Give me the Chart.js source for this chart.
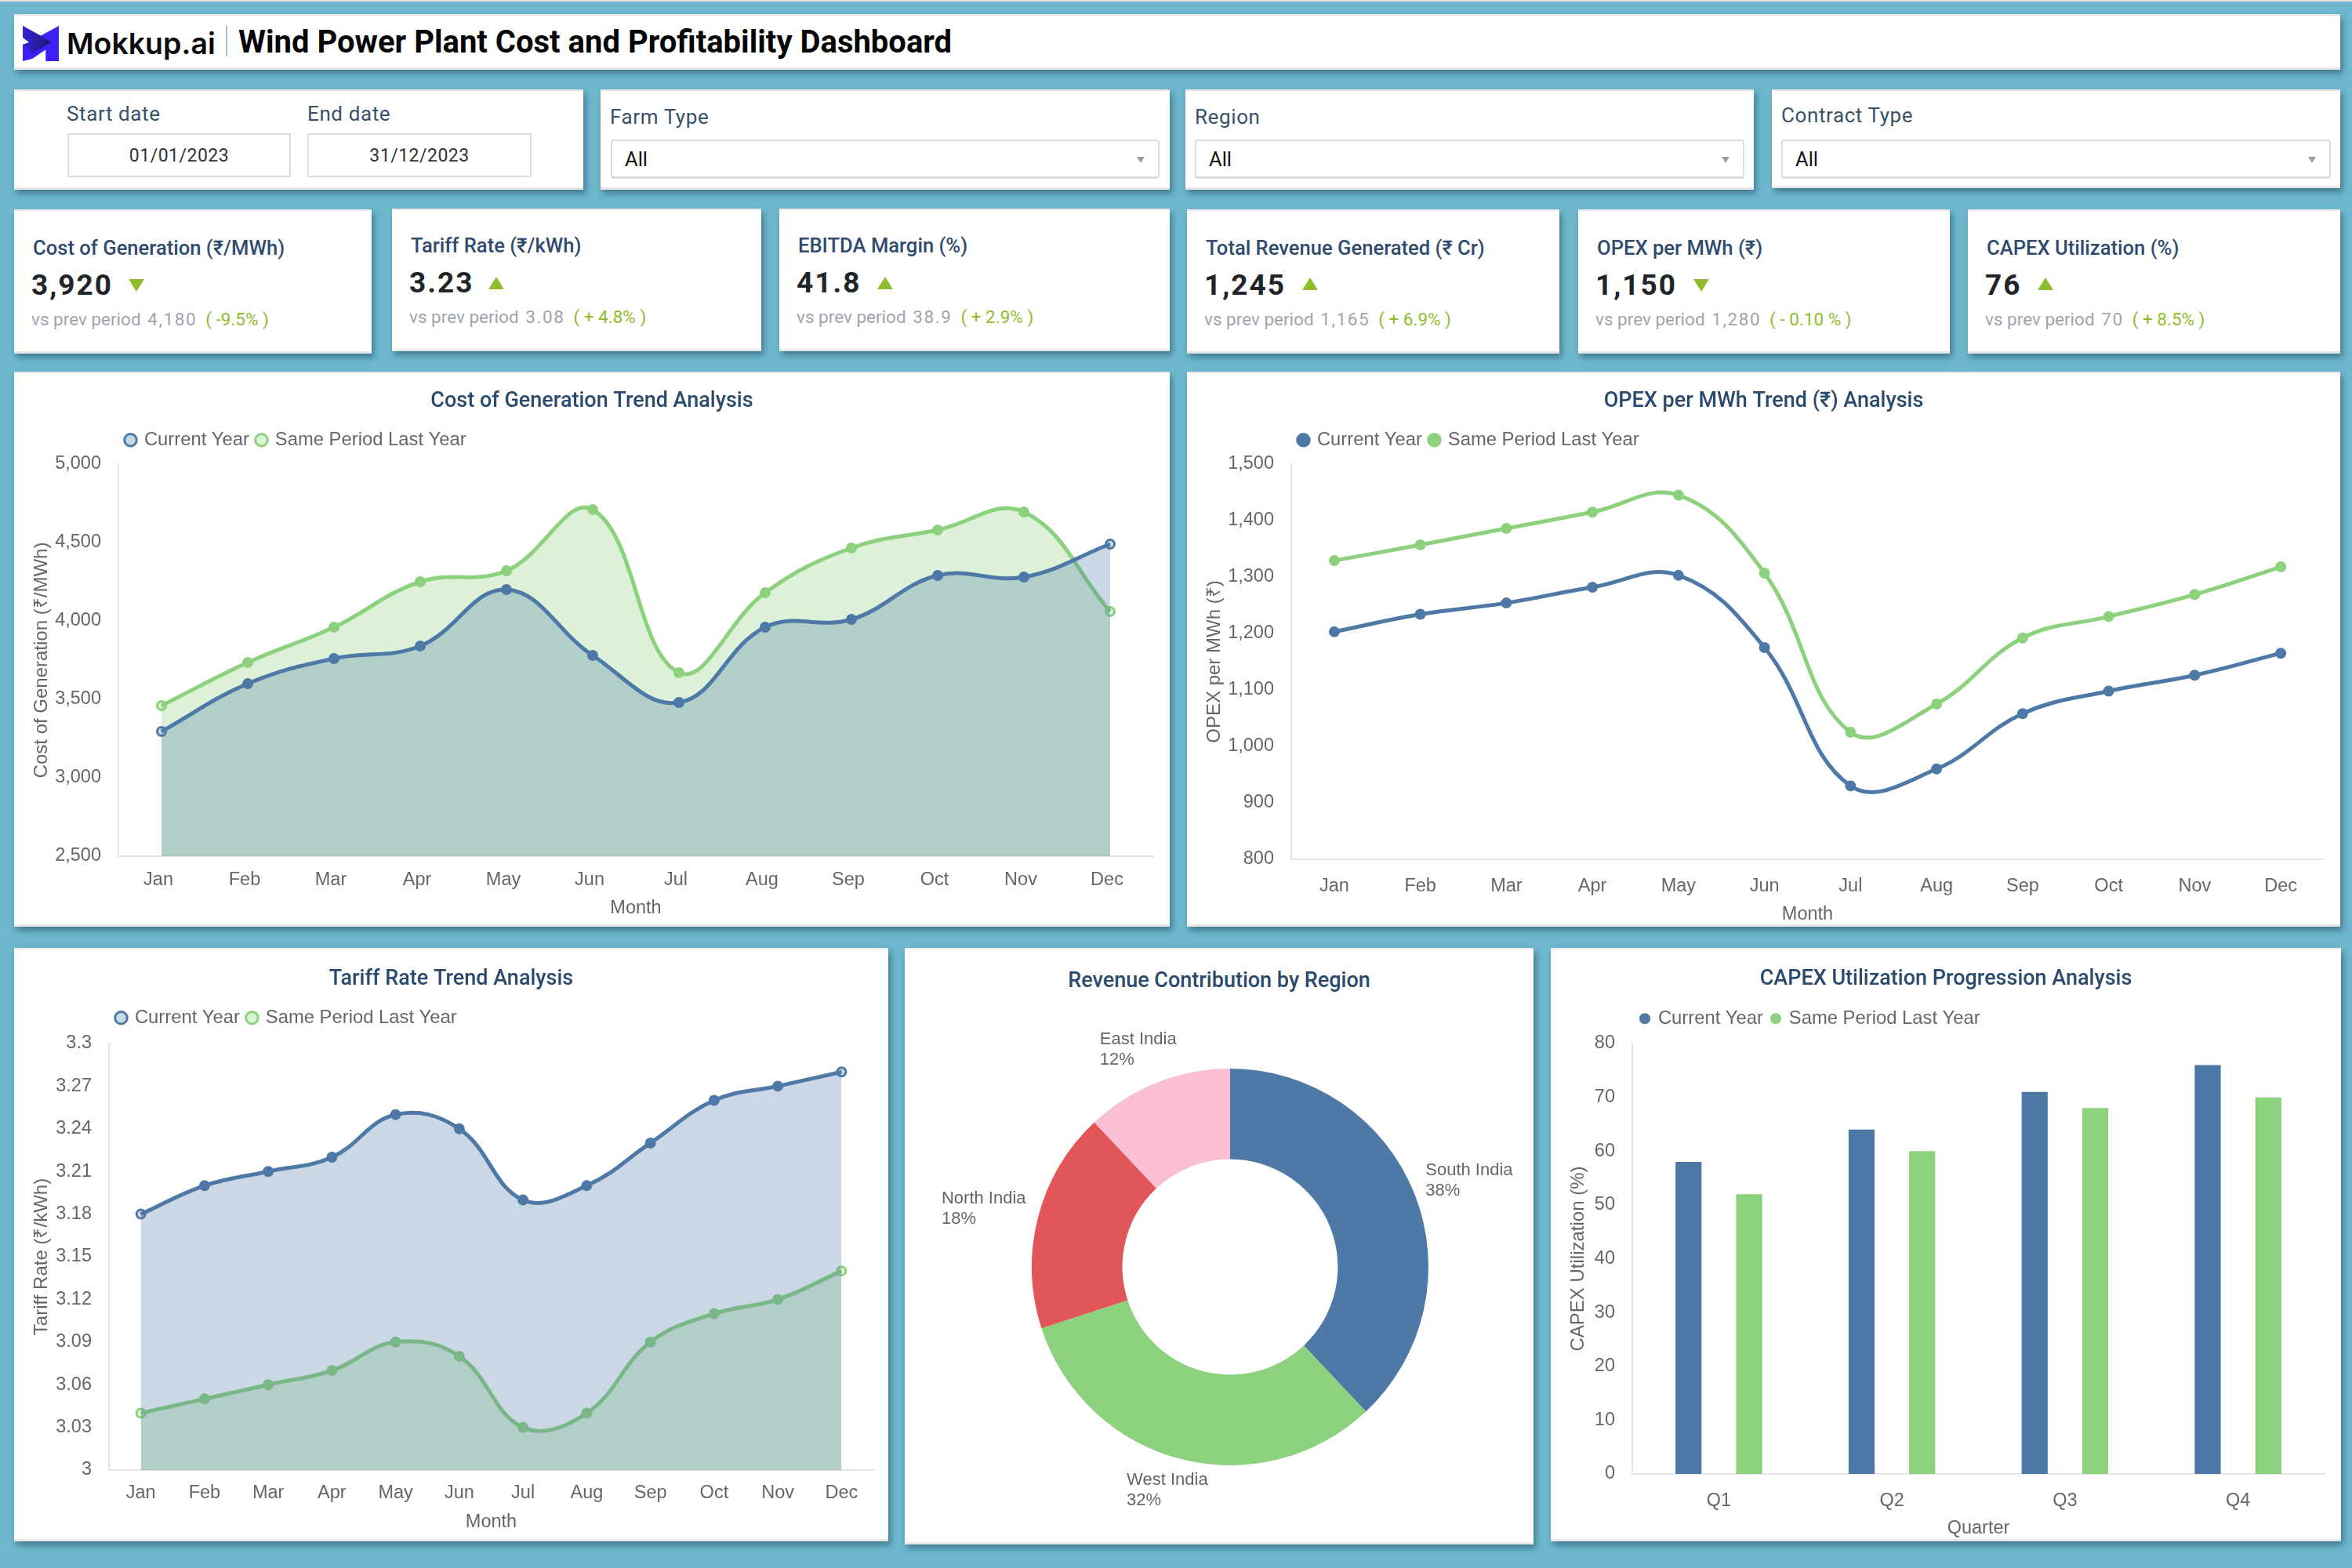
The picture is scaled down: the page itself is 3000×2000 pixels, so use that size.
<!DOCTYPE html>
<html>
<head>
<meta charset="utf-8">
<title>Wind Power Plant Cost and Profitability Dashboard</title>
<script src="https://cdn.jsdelivr.net/npm/chart.js@4/dist/chart.umd.min.js"></script>
<style>
  html, body { margin: 0; padding: 0; }
  body { width: 3000px; height: 2000px; background: #6eb8ce; position: relative; overflow: hidden; font-family: Roboto, sans-serif; }
  #topline { position: absolute; left: 0; top: 0; width: 3000px; height: 2px; background: #e4e4e4; }
  .box { position: absolute; background: #fff; box-shadow: inset 0 2px 0 #e8e8e8, inset 0 -3px 0 #e8e8e8, 3px 5px 8px rgba(30, 70, 90, .55); }
  .box canvas { position: absolute; left: 0; top: 0; }
  .abs { position: absolute; white-space: nowrap; line-height: 1; }
  .flabel { font-size: 26px; color: #3a5068; letter-spacing: .6px; }
  .dateinput { position: absolute; box-sizing: border-box; border: 2px solid #dcdcdc; background: #fff; text-align: center; font-size: 23px; color: #333; letter-spacing: .5px; line-height: 53px; }
  .select { position: absolute; box-sizing: border-box; border: 2px solid #dcdcdc; border-bottom-width: 3px; border-radius: 4px; background: #fff; font-size: 25.5px; color: #111; line-height: 46px; padding-left: 16px; }
  .select i { position: absolute; right: 17px; top: 20px; width: 0; height: 0; border-left: 5px solid transparent; border-right: 5px solid transparent; border-top: 8px solid #9a9ea6; }
  .ktitle { font-size: 25.6px; font-weight: 500; color: #2f4b6e; }
  .kvalue { font-size: 37px; font-weight: 700; color: #212529; letter-spacing: 2px; }
  .ktri { position: absolute; width: 0; height: 0; border-left: 10px solid transparent; border-right: 10px solid transparent; }
  .ksub { font-size: 22.5px; color: #a0a3ad; }
  .ksub b { font-weight: 400; color: #8fbc2c; margin-left: 11px; }
  .ksub u { text-decoration: none; letter-spacing: 1.6px; margin-left: 3px; }
  #donutTitle { position: absolute; left: 0; right: 0; top: 25px; text-align: center; font-size: 27px; font-weight: 500; color: #2a4a6e; }
</style>
</head>
<body>
<div id="topline"></div>

<div class="box" style="left:18px;top:18px;width:2967px;height:71px">
  <svg class="abs" style="left:11px;top:14px" width="46" height="46" viewBox="0 0 44 44">
    <defs><linearGradient id="lg" x1="0" y1="0" x2="1" y2="0"><stop offset="0" stop-color="#3a22d8"/><stop offset="1" stop-color="#17186b"/></linearGradient></defs>
    <path d="M0 1 L22 13 L44 1 V44 H28 V30 L12 41 L0 44 V24 L8 21 L0 15 Z" fill="#3e1ff8"/>
    <path d="M0 1 L35 21 L12 34 L0 24 L8 21 L0 15 Z" fill="url(#lg)"/>
  </svg>
  <div class="abs" style="left:67px;top:15px;font:600 37.5px Inter,sans-serif;color:#0b0b0f">Mokkup.ai</div>
  <div class="abs" style="left:270px;top:15px;width:2px;height:39px;background:#a9bcc4"></div>
  <div class="abs" style="left:286px;top:16px;font-size:40px;font-weight:700;color:#050505">Wind Power Plant Cost and Profitability Dashboard</div>
</div>

<div class="box" style="left:18px;top:114px;width:726px;height:128px">
  <div class="abs flabel" style="left:67px;top:18px">Start date</div>
  <div class="abs flabel" style="left:374px;top:18px">End date</div>
  <div class="dateinput" style="left:68px;top:56px;width:285px;height:56px">01/01/2023</div>
  <div class="dateinput" style="left:374px;top:56px;width:286px;height:56px">31/12/2023</div>
</div>
<div class="box" style="left:766px;top:114px;width:726px;height:128px">
  <div class="abs flabel" style="left:12px;top:22px">Farm Type</div>
  <div class="select" style="left:13px;top:64px;width:700px;height:50px">All<i></i></div>
</div>
<div class="box" style="left:1512px;top:114px;width:725px;height:128px">
  <div class="abs flabel" style="left:12px;top:22px">Region</div>
  <div class="select" style="left:12px;top:64px;width:701px;height:50px">All<i></i></div>
</div>
<div class="box" style="left:2260px;top:114px;width:725px;height:126px">
  <div class="abs flabel" style="left:12px;top:20px">Contract Type</div>
  <div class="select" style="left:12px;top:64px;width:701px;height:50px">All<i></i></div>
</div>

<div id="kpis"></div>

<div class="box" style="left:18px;top:474px;width:1474px;height:708px"><canvas id="costChart"></canvas></div>
<div class="box" style="left:1514px;top:474px;width:1471px;height:708px"><canvas id="opexChart"></canvas></div>
<div class="box" style="left:18px;top:1209px;width:1115px;height:757px"><canvas id="tariffChart"></canvas></div>
<div class="box" style="left:1154px;top:1209px;width:802px;height:761px"><div id="donutTitle">Revenue Contribution by Region</div><canvas id="regionChart"></canvas></div>
<div class="box" style="left:1978px;top:1209px;width:1008px;height:757px"><canvas id="capexChart"></canvas></div>

<script>
// chart data
const months = ['Jan', 'Feb', 'Mar', 'Apr', 'May', 'Jun', 'Jul', 'Aug', 'Sep', 'Oct', 'Nov', 'Dec'];
const quarters = ['Q1', 'Q2', 'Q3', 'Q4'];
const seriesNames = ['Current Year', 'Same Period Last Year'];

const costCurrent = [3295, 3600, 3760, 3840, 4200, 3780, 3480, 3960, 4010, 4290, 4280, 4490];
const costLast = [3460, 3735, 3960, 4250, 4320, 4710, 3670, 4180, 4465, 4580, 4695, 4060];

const opexCurrent = [1203, 1234, 1254, 1282, 1303, 1175, 930, 960, 1058, 1098, 1126, 1165];
const opexLast = [1329, 1357, 1386, 1415, 1445, 1307, 1025, 1075, 1192, 1230, 1269, 1318];

const tariffCurrent = [3.18, 3.20, 3.21, 3.22, 3.25, 3.24, 3.19, 3.20, 3.23, 3.26, 3.27, 3.28];
const tariffLast = [3.04, 3.05, 3.06, 3.07, 3.09, 3.08, 3.03, 3.04, 3.09, 3.11, 3.12, 3.14];

const regions = ['South India', 'West India', 'North India', 'East India'];
const regionShare = [38, 32, 18, 12];

const capexCurrent = [58, 64, 71, 76];
const capexLast = [52, 60, 68, 70];

// KPI cards
const kpiTitles = ['Cost of Generation (₹/MWh)', 'Tariff Rate (₹/kWh)', 'EBITDA Margin (%)', 'Total Revenue Generated (₹ Cr)', 'OPEX per MWh (₹)', 'CAPEX Utilization (%)'];
const kpiValues = ['3,920', '3.23', '41.8', '1,245', '1,150', '76'];
const kpiPrev = ['4,180', '3.08', '38.9', '1,165', '1,280', '70'];
const kpiChange = ['( -9.5% )', '( + 4.8% )', '( + 2.9% )', '( + 6.9% )', '( - 0.10 % )', '( + 8.5% )'];
const kpiDown = [true, false, false, false, true, false];

const BLUE = '#4E79A7';
const GREEN = '#8CD17D';
const BLUE_FILL = 'rgba(78,121,167,0.3)';
const GREEN_FILL = 'rgba(140,209,125,0.3)';
const GREY = '#666666';
const AXIS = '#e4e4e4';
const ARIAL = 'Liberation Sans';

const kpiBoxes = [[18, 267, 456, 184, 316], [500, 266, 471, 182, 313], [994, 266, 498, 182, 313], [1514, 267, 475, 184, 316], [2013, 267, 474, 184, 316], [2510, 267, 475, 184, 316]];
const triLeft = [146, 123, 125, 147, 147, 89];
let kpiHtml = '';
kpiBoxes.forEach(([x, y, w, h, ty], i) => {
    const tri = kpiDown[i] ? 'border-top:16px solid #8fbc2c;top:89px' : 'border-bottom:16px solid #8fbc2c;top:87px';
    kpiHtml += `<div class="box" style="left:${x}px;top:${y}px;width:${w}px;height:${h}px">
      <div class="abs ktitle" style="left:24px;top:${ty - y - 12}px">${kpiTitles[i]}</div>
      <div class="abs kvalue" style="left:22px;top:${ty - y + 29}px">${kpiValues[i]}</div>
      <div class="ktri" style="left:${triLeft[i]}px;${tri}"></div>
      <div class="abs ksub" style="left:22px;top:${ty - y + 80}px">vs prev period <u>${kpiPrev[i]}</u><b>${kpiChange[i]}</b></div>
    </div>`;
});
document.getElementById('kpis').innerHTML = kpiHtml;

// fix the legend block height so the plot starts where we want
const legendHeight = (height) => ({
    id: 'legendHeight',
    beforeInit(chart) {
        const fit = chart.legend.fit;
        chart.legend.fit = function () {
            fit.call(this);
            this.height = height;
        };
    }
});

// hollow markers at both ends of the area series
const endMarkers = (color, fill) => months.map((m, i) => (i === 0 || i === months.length - 1) ? fill : color);

function axisOptions(o) {
    return {
        x: {
            offset: true,
            grid: { display: false, drawTicks: false },
            border: { display: true, color: AXIS, width: 2 },
            ticks: { color: GREY, font: { family: ARIAL, size: 23.5 }, padding: o.xTickPad, labelOffset: o.xLabelOffset || 0, maxRotation: 0, autoSkip: false },
            title: { display: true, text: o.xTitle, color: GREY, font: { family: ARIAL, size: 23.5 }, padding: { top: 0, bottom: o.xTitlePad } },
            afterFit(scale) { scale.height = o.xHeight; }
        },
        y: {
            min: o.yMin,
            max: o.yMax,
            grid: { display: false, drawTicks: false },
            border: { display: true, color: AXIS, width: 2 },
            ticks: { stepSize: o.yStep, autoSkip: false, color: GREY, font: { family: ARIAL, size: 23.5 }, padding: 22, callback: o.yFormat },
            title: { display: true, text: o.yTitle, color: GREY, font: { family: ARIAL, size: 24 }, padding: { top: o.yTitlePad, bottom: 0 } },
            afterFit(scale) { scale.width = o.gutter - o.side; }
        }
    };
}

function baseOptions(o) {
    return {
        responsive: false,
        animation: false,
        devicePixelRatio: 1,
        layout: { padding: { left: o.side, right: o.side } },
        plugins: {
            tooltip: { enabled: false },
            title: {
                display: true,
                text: o.title,
                color: '#2a4a6e',
                font: { family: 'Roboto', size: 27, weight: '500' },
                padding: { top: o.titleTop, bottom: o.titleBottom }
            },
            legend: {
                position: 'top',
                align: 'start',
                fullSize: false,
                labels: {
                    usePointStyle: true,
                    boxWidth: 11,
                    boxHeight: 11,
                    padding: 10,
                    color: GREY,
                    font: { family: ARIAL, size: 23.8 }
                }
            }
        },
        scales: axisOptions(o)
    };
}

function lineChart(id, w, h, current, last, o) {
    const canvas = document.getElementById(id);
    canvas.width = w;
    canvas.height = h;
    const lineSet = (label, data, color, fill) => ({
        label,
        data,
        borderColor: color,
        backgroundColor: fill || color,
        fill: fill ? 'start' : false,
        tension: 0.4,
        borderWidth: 5,
        pointRadius: 5.5,
        pointBorderWidth: 3,
        pointBorderColor: color,
        pointBackgroundColor: fill ? endMarkers(color, fill) : color
    });
    return new Chart(canvas, {
        type: 'line',
        data: {
            labels: months,
            datasets: [
                lineSet(seriesNames[0], current, BLUE, o.area ? BLUE_FILL : null),
                lineSet(seriesNames[1], last, GREEN, o.area ? GREEN_FILL : null)
            ]
        },
        options: baseOptions(o),
        plugins: [legendHeight(o.plotTop - o.titleTop - 32.4 - o.titleBottom)]
    });
}

const thousands = (v) => v.toLocaleString('en-US');

lineChart('costChart', 1474, 708, costCurrent, costLast, {
    area: true,
    title: 'Cost of Generation Trend Analysis', titleTop: 22, titleBottom: 11, plotTop: 118, side: 21,
    gutter: 133, xHeight: 90, xTickPad: 16, xLabelOffset: -4, xTitle: 'Month', xTitlePad: 9,
    yMin: 2500, yMax: 5000, yStep: 500, yFormat: thousands, yTitle: 'Cost of Generation (₹/MWh)', yTitlePad: 0
});

lineChart('opexChart', 1471, 708, opexCurrent, opexLast, {
    area: false,
    title: 'OPEX per MWh Trend (₹) Analysis', titleTop: 22, titleBottom: 11, plotTop: 118, side: 21,
    gutter: 133, xHeight: 86, xTickPad: 20, xTitle: 'Month', xTitlePad: 1,
    yMin: 800, yMax: 1500, yStep: 100, yFormat: thousands, yTitle: 'OPEX per MWh (₹)', yTitlePad: 0
});

lineChart('tariffChart', 1115, 757, tariffCurrent, tariffLast, {
    area: true,
    title: 'Tariff Rate Trend Analysis', titleTop: 24, titleBottom: 11, plotTop: 122, side: 19,
    gutter: 121, xHeight: 91, xTickPad: 15, xTitle: 'Month', xTitlePad: 10,
    yMin: 3, yMax: 3.3, yStep: 0.03, yFormat: (v) => String(Number(v.toFixed(2))), yTitle: 'Tariff Rate (₹/kWh)', yTitlePad: 2
});

// capex bars
(function () {
    const canvas = document.getElementById('capexChart');
    canvas.width = 1008;
    canvas.height = 757;
    const o = {
        title: 'CAPEX Utilization Progression Analysis', titleTop: 24, titleBottom: 11, plotTop: 122, side: 21,
        gutter: 104, xHeight: 86, xTickPad: 20, xTitle: 'Quarter', xTitlePad: 2,
        yMin: 0, yMax: 80, yStep: 10, yFormat: thousands, yTitle: 'CAPEX Utilization (%)', yTitlePad: 0
    };
    const options = baseOptions(o);
    options.plugins.legend.labels.boxWidth = 10;
    options.plugins.legend.labels.boxHeight = 10;
    options.plugins.legend.labels.padding = 11;
    new Chart(canvas, {
        type: 'bar',
        data: {
            labels: quarters,
            datasets: [
                { label: seriesNames[0], data: capexCurrent, backgroundColor: BLUE, categoryPercentage: 0.7, barPercentage: 0.43 },
                { label: seriesNames[1], data: capexLast, backgroundColor: GREEN, categoryPercentage: 0.7, barPercentage: 0.43 }
            ]
        },
        options,
        plugins: [legendHeight(o.plotTop - o.titleTop - 32.4 - o.titleBottom)]
    });
})();

// revenue donut with two-line labels next to each slice
const donutLabels = {
    id: 'donutLabels',
    afterDatasetsDraw(chart) {
        const offsets = [[14, -30], [-69, 27], [-123, -24], [-73, -55]];
        const ctx = chart.ctx;
        const arcs = chart.getDatasetMeta(0).data;
        ctx.save();
        ctx.font = '22px "' + ARIAL + '"';
        ctx.fillStyle = GREY;
        ctx.textAlign = 'left';
        ctx.textBaseline = 'middle';
        arcs.forEach((arc, i) => {
            const p = arc.getProps(['x', 'y', 'startAngle', 'endAngle', 'outerRadius'], true);
            const mid = (p.startAngle + p.endAngle) / 2;
            const ex = p.x + Math.cos(mid) * p.outerRadius + offsets[i][0];
            const ey = p.y + Math.sin(mid) * p.outerRadius + offsets[i][1];
            ctx.fillText(chart.data.labels[i], ex, ey);
            ctx.fillText(chart.data.datasets[0].data[i] + '%', ex, ey + 26);
        });
        ctx.restore();
    }
};

(function () {
    const canvas = document.getElementById('regionChart');
    canvas.width = 802;
    canvas.height = 761;
    new Chart(canvas, {
        type: 'doughnut',
        data: {
            labels: regions,
            datasets: [{ data: regionShare, backgroundColor: [BLUE, GREEN, '#E15759', '#FABFD2'], borderWidth: 0 }]
        },
        options: {
            responsive: false,
            animation: false,
            devicePixelRatio: 1,
            cutout: '54.3%',
            layout: { padding: { left: 162, right: 134, top: 154, bottom: 101 } },
            plugins: { legend: { display: false }, tooltip: { enabled: false } }
        },
        plugins: [donutLabels]
    });
})();
</script>
</body>
</html>
